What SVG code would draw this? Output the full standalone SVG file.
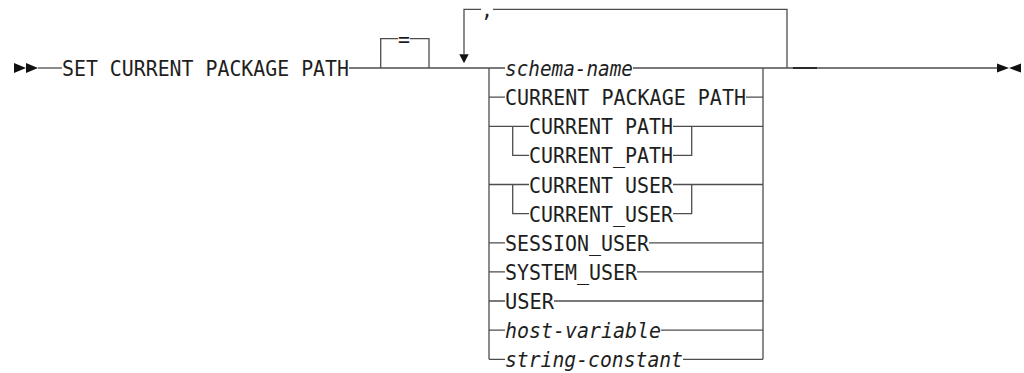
<svg xmlns="http://www.w3.org/2000/svg" width="1024" height="373" viewBox="0 0 1024 373">
<defs>
<style>
.ln{fill:none;stroke:#4d4d4d;stroke-width:1.3}
.t{font-family:"DejaVu Sans Mono","Liberation Mono",monospace;font-size:21px;fill:#1e1e1e}
.i{font-style:italic}
.ah{fill:#111}
</style>
</defs>
<rect width="1024" height="373" fill="#fff"/>
<g id="connectors">
<polygon class="ah" points="14,63 26,68 14,73"/>
<polygon class="ah" points="26,63 38,68 26,73"/>
<path class="ln" d="M38,68 H62"/>
<path class="ln" d="M349,68 H489"/>
<path class="ln" d="M380.7,68 V38.7 H398 M410,38.7 H429 V68"/>
<path class="ln" d="M787,68 V9.3 H493 M481,9.3 H464 V54.3"/>
<polygon class="ah" points="459.3,54.3 468.7,54.3 464,63.3"/>
<path class="ln" d="M489,68 V359.3"/>
<path class="ln" d="M763,68 V359.3"/>
<path class="ln" d="M763,68 H997"/>
<path d="M793,68 H817" stroke="#2a2a2a" stroke-width="2"/>
<polygon class="ah" points="997,63.5 1009,68 997,72.5"/>
<polygon class="ah" points="1021,63.5 1009,68 1021,72.5"/>
<path class="ln" d="M489,68 H505 M633,68 H763"/>
<path class="ln" d="M489,97.1 H505 M746,97.1 H763"/>
<path class="ln" d="M489,126.3 H529 M673,126.3 H763"/>
<path class="ln" d="M512.7,126.3 V155.4 H529 M673,155.4 H691.7 V126.3"/>
<path class="ln" d="M489,184.5 H529 M673,184.5 H763"/>
<path class="ln" d="M512.7,184.5 V213.7 H529 M673,213.7 H691.7 V184.5"/>
<path class="ln" d="M489,242.8 H505 M649,242.8 H763"/>
<path class="ln" d="M489,271.9 H505 M637,271.9 H763"/>
<path class="ln" d="M489,301 H505 M554,301 H763"/>
<path class="ln" d="M489,330.2 H505 M661,330.2 H763"/>
<path class="ln" d="M505,359.3 H489 M683,359.3 H763"/>
</g>
<g id="n-set"><text class="t" x="62" y="76" textLength="287" lengthAdjust="spacingAndGlyphs">SET CURRENT PACKAGE PATH</text></g>
<g id="n-eq"><text class="t" x="398" y="46.7" textLength="12" lengthAdjust="spacingAndGlyphs">=</text></g>
<g id="n-comma"><text class="t" x="481" y="17.3" textLength="12" lengthAdjust="spacingAndGlyphs">,</text></g>
<g id="n-schema"><text class="t i" x="505" y="76" textLength="128" lengthAdjust="spacingAndGlyphs">schema-name</text></g>
<g id="n-cpp"><text class="t" x="505" y="105.1" textLength="241" lengthAdjust="spacingAndGlyphs">CURRENT PACKAGE PATH</text></g>
<g id="n-cp1"><text class="t" x="529" y="134.3" textLength="144" lengthAdjust="spacingAndGlyphs">CURRENT PATH</text></g>
<g id="n-cp2"><text class="t" x="529" y="163.4" textLength="144" lengthAdjust="spacingAndGlyphs">CURRENT_PATH</text></g>
<g id="n-cu1"><text class="t" x="529" y="192.5" textLength="144" lengthAdjust="spacingAndGlyphs">CURRENT USER</text></g>
<g id="n-cu2"><text class="t" x="529" y="221.7" textLength="144" lengthAdjust="spacingAndGlyphs">CURRENT_USER</text></g>
<g id="n-session"><text class="t" x="505" y="250.8" textLength="144" lengthAdjust="spacingAndGlyphs">SESSION_USER</text></g>
<g id="n-system"><text class="t" x="505" y="279.9" textLength="132" lengthAdjust="spacingAndGlyphs">SYSTEM_USER</text></g>
<g id="n-user"><text class="t" x="505" y="309" textLength="49" lengthAdjust="spacingAndGlyphs">USER</text></g>
<g id="n-host"><text class="t i" x="505" y="338.2" textLength="156" lengthAdjust="spacingAndGlyphs">host-variable</text></g>
<g id="n-string"><text class="t i" x="505" y="367.3" textLength="178" lengthAdjust="spacingAndGlyphs">string-constant</text></g>
</svg>
